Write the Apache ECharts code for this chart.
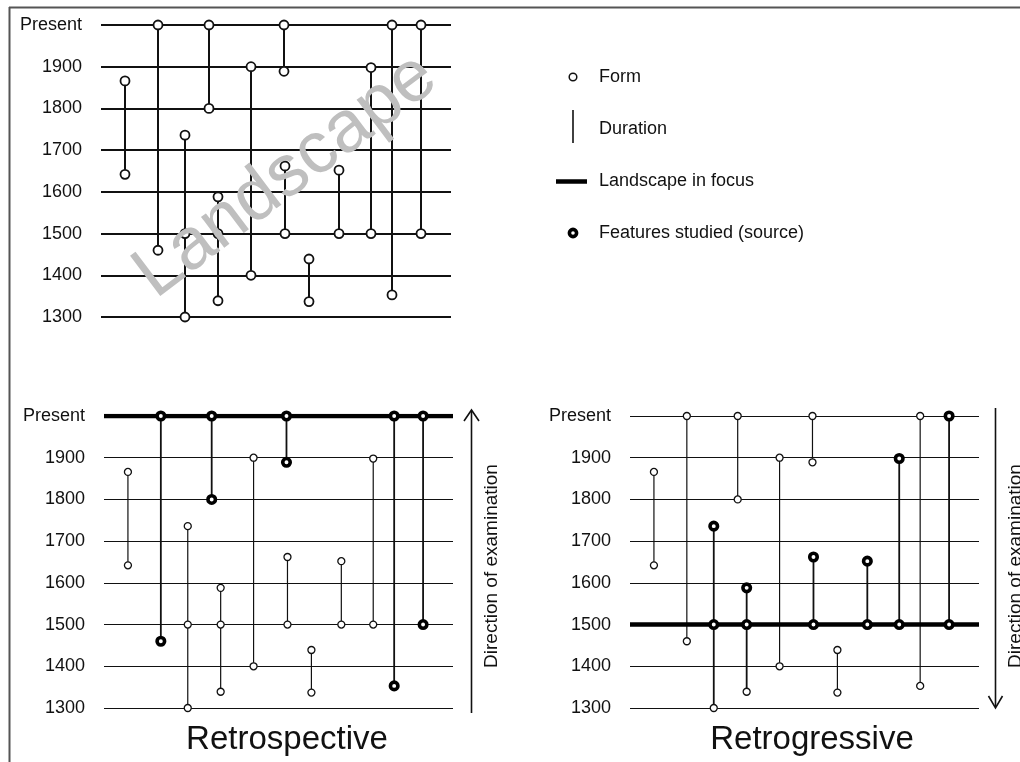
<!DOCTYPE html>
<html>
<head>
<meta charset="utf-8">
<script src="https://cdn.jsdelivr.net/npm/echarts@6/dist/echarts.min.js"></script>
<style>
html,body{margin:0;padding:0;background:#fff;}
#chart{width:1020px;height:762px;}
</style>
</head>
<body>
<div id="chart"></div>
<script>
// ---- data ----
const yearTicks = [1300, 1400, 1500, 1600, 1700, 1800, 1900, 2000];
const tickLabels = ['1300', '1400', '1500', '1600', '1700', '1800', '1900', 'Present'];
// horizontal position of each feature (0..350 schematic units)
const featureX = [24, 57, 84, 108, 117, 150, 183, 184, 208, 238, 270, 291, 320];
// forms (years) belonging to each feature
const featureForms = [
  [1642, 1866], [1460, 2000], [1300, 1500, 1736], [1800, 2000], [1339, 1500, 1588],
  [1400, 1900], [1889, 2000], [1500, 1662], [1337, 1439], [1500, 1652],
  [1500, 1898], [1353, 2000], [1500, 2000]
];
const retrospectiveFocus = 2000;
const retrogressiveFocus = 1500;
// [feature index, year] of features studied (source)
const retrospectiveSources = [[1, 2000], [1, 1460], [3, 2000], [3, 1800], [6, 2000], [6, 1889], [11, 2000], [11, 1353], [12, 2000], [12, 1500]];
const retrogressiveSources = [[2, 1736], [2, 1500], [4, 1588], [4, 1500], [7, 1662], [7, 1500], [9, 1652], [9, 1500], [10, 1898], [10, 1500], [12, 2000], [12, 1500]];
const legendItems = ['Form', 'Duration', 'Landscape in focus', 'Features studied (source)'];
const panelTitles = ['Retrospective', 'Retrogressive'];
const watermark = 'Landscape';
const directionText = 'Direction of examination';

// ---- build ----
const X_MIN = 0, X_MAX = 350;
const FONT = 'Liberation Sans, Arial, Helvetica, sans-serif';
const labelMap = {};
yearTicks.forEach((y, i) => labelMap[y] = tickLabels[i]);

const formPoints = [];
featureForms.forEach((forms, i) => forms.forEach(y => formPoints.push([featureX[i], y])));

function durations(sources) {
  const srcSet = new Set((sources || []).map(s => s[0]));
  return featureForms.map((forms, i) => [featureX[i], Math.min(...forms), Math.max(...forms), srcSet.has(i) ? 1 : 0]);
}

const panels = [
  { left: 101, top: 25, width: 350, height: 292, grid: 1.8, dur: 2, durSrc: 2, sym: 9, symB: 1.8, axisW: 2, sources: null, focus: null },
  { left: 104, top: 416, width: 349, height: 292, grid: 1.2, dur: 1.2, durSrc: 1.8, sym: 7, symB: 1.3, axisW: 1.6, sources: retrospectiveSources, focus: retrospectiveFocus },
  { left: 630, top: 416, width: 349, height: 292, grid: 1.2, dur: 1.2, durSrc: 1.8, sym: 7, symB: 1.3, axisW: 1.6, sources: retrogressiveSources, focus: retrogressiveFocus }
];

const grids = [], xAxes = [], yAxes = [], series = [];
panels.forEach((p, k) => {
  grids.push({ left: p.left, top: p.top, width: p.width, height: p.height });
  xAxes.push({ gridIndex: k, type: 'value', min: X_MIN, max: X_MAX, show: false });
  yAxes.push({
    gridIndex: k, type: 'value', min: yearTicks[0], max: yearTicks[yearTicks.length - 1], interval: 100,
    axisLine: { show: false }, axisTick: { show: false },
    axisLabel: { color: '#111', fontSize: 18, fontFamily: FONT, margin: 19, formatter: v => labelMap[v] },
    splitLine: { show: true, lineStyle: { color: '#111', width: p.grid } }
  });
  // vertical axis line (offset from the grid)
  series.push({
    type: 'line', xAxisIndex: k, yAxisIndex: k, clip: false, symbol: 'none', silent: true, z: 1,
    lineStyle: { color: '#222', width: p.axisW },
    data: [[-8, 1288], [-8, 2019]]
  });
  // durations
  series.push({
    type: 'custom', xAxisIndex: k, yAxisIndex: k, z: 2, silent: true,
    data: durations(p.sources),
    renderItem: (params, api) => {
      const a = api.coord([api.value(0), api.value(1)]);
      const b = api.coord([api.value(0), api.value(2)]);
      return { type: 'line', shape: { x1: a[0], y1: a[1], x2: b[0], y2: b[1] },
        style: { stroke: '#111', lineWidth: api.value(3) ? p.durSrc : p.dur } };
    }
  });
  if (p.focus !== null) {
    series.push({
      type: 'line', xAxisIndex: k, yAxisIndex: k, symbol: 'none', silent: true, z: 3,
      lineStyle: { color: '#000', width: 4.5 },
      data: [[X_MIN, p.focus], [X_MAX, p.focus]]
    });
  }
  series.push({
    type: 'scatter', xAxisIndex: k, yAxisIndex: k, z: 4, silent: true,
    symbol: 'circle', symbolSize: p.sym,
    itemStyle: { color: '#fff', borderColor: '#111', borderWidth: p.symB, opacity: 1 },
    data: formPoints
  });
  if (p.sources) {
    series.push({
      type: 'scatter', xAxisIndex: k, yAxisIndex: k, z: 5, silent: true,
      symbol: 'circle', symbolSize: 7.5,
      itemStyle: { color: '#fff', borderColor: '#000', borderWidth: 3.6, opacity: 1 },
      data: p.sources.map(s => [featureX[s[0]], s[1]])
    });
  }
});

function txt(x, y, text, size, opts) {
  return Object.assign({
    type: 'text', x: x, y: y, z: 50,
    style: Object.assign({ text: text, fill: '#111', font: size + 'px ' + FONT,
      align: 'left', verticalAlign: 'middle', textAlign: 'left', textVerticalAlign: 'middle' }, (opts && opts.style) || {})
  }, (opts && opts.el) || {});
}
function seg(x1, y1, x2, y2, w, c) {
  return { type: 'line', z: 50, shape: { x1, y1, x2, y2 }, style: { stroke: c || '#111', lineWidth: w } };
}
function poly(points, w) {
  return { type: 'polyline', z: 50, shape: { points }, style: { stroke: '#111', lineWidth: w, fill: null } };
}

const graphics = [
  // frame
  seg(9, 7.5, 1020, 7.5, 2, '#555'),
  seg(9.5, 7, 9.5, 762, 2, '#555'),
  // legend
  { type: 'circle', z: 50, shape: { cx: 573, cy: 77, r: 3.8 }, style: { fill: '#fff', stroke: '#111', lineWidth: 1.5 } },
  txt(599, 77, legendItems[0], 18),
  seg(573, 110, 573, 143, 1.6),
  txt(599, 129, legendItems[1], 18),
  seg(556, 181.5, 587, 181.5, 4.5, '#000'),
  txt(599, 181, legendItems[2], 18),
  { type: 'circle', z: 50, shape: { cx: 573, cy: 233, r: 3.6 }, style: { fill: '#fff', stroke: '#000', lineWidth: 3.6 } },
  txt(599, 233, legendItems[3], 18),
  // titles
  txt(287, 740, panelTitles[0], 33, { style: { align: 'center', textAlign: 'center' } }),
  txt(812, 740, panelTitles[1], 33, { style: { align: 'center', textAlign: 'center' } }),
  // arrows
  seg(471.5, 411, 471.5, 713, 1.6),
  poly([[464, 421], [471.5, 410], [479, 421]], 1.6),
  seg(995.5, 408, 995.5, 707, 1.6),
  poly([[988.5, 696], [995.5, 708], [1002.5, 696]], 1.6),
  txt(491.5, 566, directionText, 19, { style: { align: 'center', textAlign: 'center' }, el: { rotation: Math.PI / 2 } }),
  txt(1015.5, 566, directionText, 19, { style: { align: 'center', textAlign: 'center' }, el: { rotation: Math.PI / 2 } }),
  // watermark
  txt(286, 176, watermark, 73, { style: { align: 'center', textAlign: 'center', fill: '#bfbfbf' }, el: { rotation: 37 * Math.PI / 180, z: 100 } })
];

const chart = echarts.init(document.getElementById('chart'), null, { renderer: 'canvas' });
chart.setOption({
  animation: false,
  backgroundColor: '#fff',
  grid: grids,
  xAxis: xAxes,
  yAxis: yAxes,
  series: series,
  graphic: { elements: graphics }
});
</script>
</body>
</html>
